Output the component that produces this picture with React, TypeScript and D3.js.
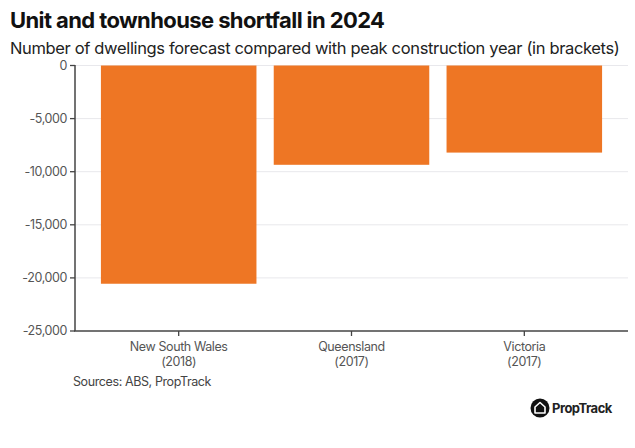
import React from "react";
import * as d3 from "d3";

const categories = ["New South Wales", "Queensland", "Victoria"];
const peakYears = ["(2018)", "(2017)", "(2017)"];
const values = [-20550, -9350, -8200];
const yTicks = [0, -5000, -10000, -15000, -20000, -25000];

const W = 635;
const H = 448;
const FONT = "Inter, 'Noto Sans', sans-serif";

export default function App() {
  const x = d3
    .scaleBand<string>()
    .domain(categories)
    .range([75, 628])
    .paddingInner(0.1)
    .paddingOuter(0.15);
  const y = d3.scaleLinear().domain([-25000, 0]).range([331, 65.5]);
  const fmt = (v: number) => d3.format(",")(v).replace("\u2212", "-");

  return (
    <svg
      width={W}
      height={H}
      style={{ position: "absolute", left: 0, top: 0, background: "#fff" }}
      fontFamily={FONT}
    >
      <rect width={W} height={H} fill="#fff" />
      <text x={10} y={28} fontSize={22} fontWeight={700} fill="#111" letterSpacing={-0.6}>
        Unit and townhouse shortfall in 2024
      </text>
      <text x={10} y={54} fontSize={16.5} fill="#222" letterSpacing={-0.35}>
        Number of dwellings forecast compared with peak construction year (in brackets)
      </text>

      {yTicks.map((t) => (
        <g key={t}>
          {t !== -25000 && (
            <line x1={75} x2={628} y1={y(t)} y2={y(t)} stroke="#e8e8ec" strokeWidth={1} />
          )}
          <line x1={70} x2={75} y1={y(t)} y2={y(t)} stroke="#444" strokeWidth={1.3} />
          <text
            x={67}
            y={y(t)}
            dy="0.35em"
            textAnchor="end"
            fontSize={12.5}
            fill="#555"
            letterSpacing={-0.4}
          >
            {fmt(t)}
          </text>
        </g>
      ))}

      {categories.map((c, i) => (
        <rect
          key={c}
          x={x(c)}
          width={x.bandwidth()}
          y={y(0)}
          height={y(values[i]) - y(0)}
          fill="#EE7624"
        />
      ))}

      <line x1={75} x2={75} y1={65} y2={331} stroke="#444" strokeWidth={1.5} />
      <line x1={74} x2={628} y1={331} y2={331} stroke="#444" strokeWidth={1.5} />

      {categories.map((c, i) => {
        const cx = (x(c) as number) + x.bandwidth() / 2;
        return (
          <g key={c}>
            <line x1={cx} x2={cx} y1={331} y2={336} stroke="#444" strokeWidth={1.3} />
            <text x={cx} y={351} textAnchor="middle" fontSize={12.5} fill="#555" letterSpacing={-0.4}>
              {c}
            </text>
            <text x={cx} y={366} textAnchor="middle" fontSize={12.5} fill="#555" letterSpacing={-0.4}>
              {peakYears[i]}
            </text>
          </g>
        );
      })}

      <text x={73} y={386} fontSize={12.5} fill="#444" letterSpacing={-0.4}>
        Sources: ABS, PropTrack
      </text>

      <g transform="translate(540,408)">
        <circle r={9.5} fill="#111" />
        <path
          d="M0,-5.5 L5,-1 L5,5 L-5,5 L-5,-1 Z"
          fill="none"
          stroke="#fff"
          strokeWidth={1.6}
          strokeLinejoin="round"
        />
      </g>
      <text x={552} y={413} fontSize={13} fontWeight={700} fill="#222" letterSpacing={-0.5}>
        PropTrack
      </text>
    </svg>
  );
}
